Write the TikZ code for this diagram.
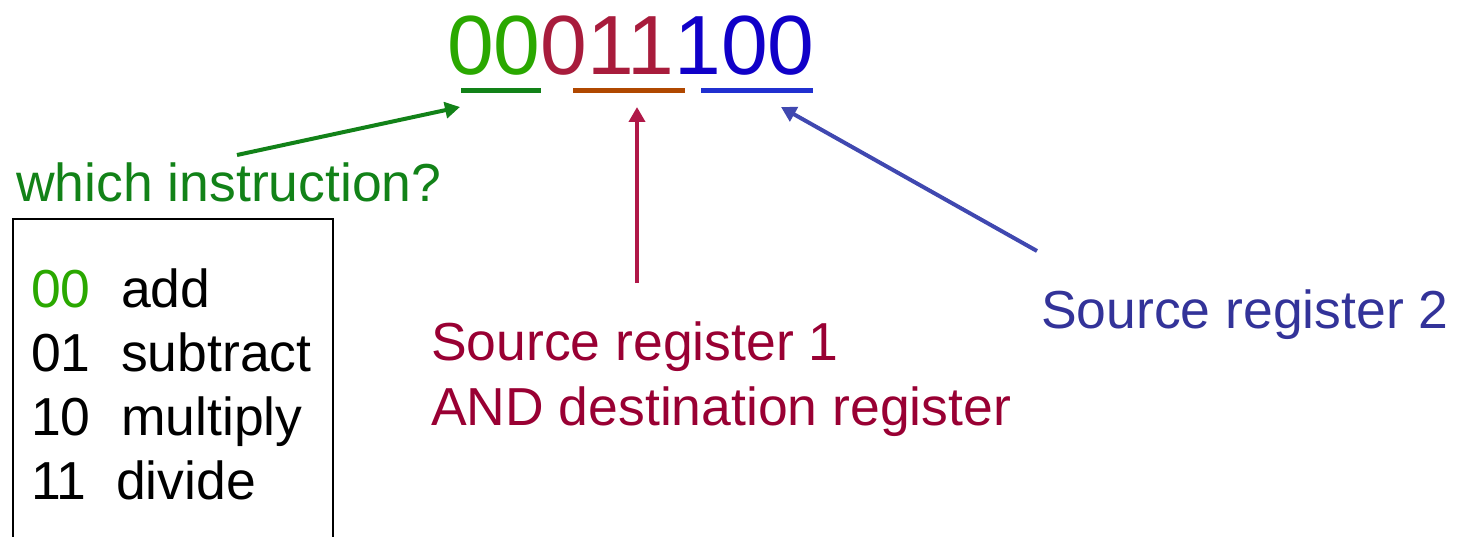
\documentclass[tikz,border=0pt]{standalone}
\usepackage{fontspec}
\setmainfont{Liberation Sans}
\usetikzlibrary{arrows.meta}

\definecolor{bitgreen}{RGB}{42,168,0}
\definecolor{bitred}{RGB}{168,28,60}
\definecolor{bitblue}{RGB}{16,0,200}
\definecolor{opgreen}{RGB}{18,130,24}
\definecolor{barbrown}{RGB}{176,72,0}
\definecolor{barblue}{RGB}{32,48,208}
\definecolor{srcred}{RGB}{153,0,51}
\definecolor{arrred}{RGB}{176,24,72}
\definecolor{srcblue}{RGB}{51,51,153}
\definecolor{arrblue}{RGB}{64,72,176}

\tikzset{
  lbl/.style={inner sep=0pt, anchor=base west, font=\fontsize{53.5}{62}\selectfont},
  pointer/.style={line width=4pt, -{Triangle[length=15pt,width=16pt]}},
  underbar/.style={line width=5pt},
}

\begin{document}
\begin{tikzpicture}[x=1pt, y=-1pt]
  \useasboundingbox (0,0) rectangle (1458,537);

  % the instruction word
  \node[inner sep=0pt, anchor=base west, font=\fontsize{84}{90}\selectfont] (bits) at (447,75)
    {\textcolor{bitgreen}{00}\textcolor{bitred}{011}\textcolor{bitblue}{100}};

  % field underlines
  \draw[underbar, opgreen]  (461,91) -- (541,91);
  \draw[underbar, barbrown] (573,91) -- (685,91);
  \draw[underbar, barblue]  (701,91) -- (813,91);

  % labels
  \node[lbl, opgreen] (which) at (16,202) {which instruction?};
  \node[lbl, srcred] (src1) at (431,360) {Source register 1};
  \node[lbl, srcred, anchor=base west] (dst) at ([yshift=-65pt]src1.base west) {AND destination register};
  \node[lbl, srcblue] (src2) at (1041,328) {Source register 2};

  % opcode table (box open at the bottom)
  \draw[line width=2pt] (13,540) -- (13,219) -- (333,219) -- (333,540);
  \foreach \i/\code/\op/\opx/\col in {0/00/add/121/bitgreen, 1/01/subtract/121/black,
      2/10/multiply/121/black, 3/11/divide/116/black} {
    \node[lbl, \col] (code\i) at (31,307+64*\i) {\code};
    \node[lbl] (op\i) at (\opx,307+64*\i) {\op};
  }

  % pointers from labels to fields
  \coordinate (opcTail) at (237,155);
  \coordinate (opcTip)  at (460,107);
  \coordinate (rdTail)  at (637,283);
  \coordinate (rdTip)   at (637,107);
  \coordinate (rsTail)  at (1037,251);
  \coordinate (rsTip)   at (781,107);
  \draw[pointer, opgreen] (opcTail) -- (opcTip);
  \draw[pointer, arrred]  (rdTail) -- (rdTip);
  \draw[pointer, arrblue] (rsTail) -- (rsTip);
\end{tikzpicture}
\end{document}
